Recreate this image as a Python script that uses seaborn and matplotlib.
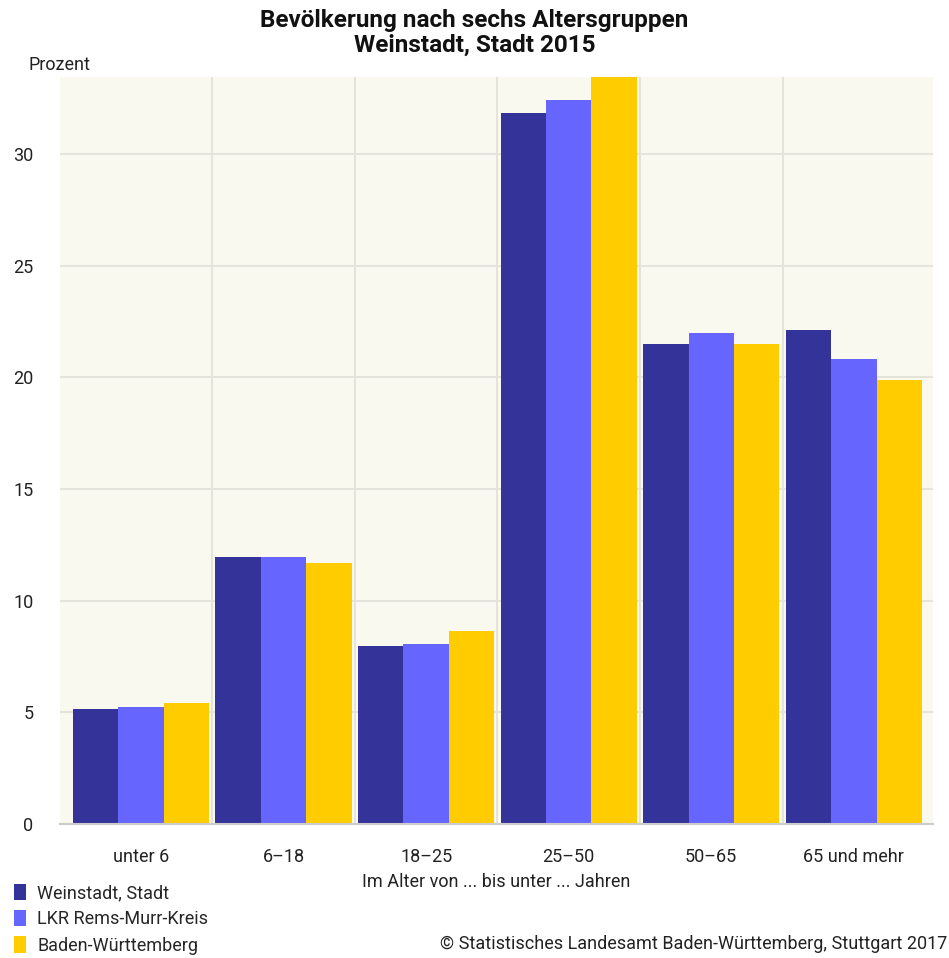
import matplotlib
matplotlib.use("Agg")
import matplotlib.pyplot as plt
import seaborn as sns
import pandas as pd
from matplotlib.patches import Patch

categories = ["unter 6", "6–18", "18–25", "25–50", "50–65", "65 und mehr"]
regions = ["Weinstadt, Stadt", "LKR Rems-Murr-Kreis", "Baden-Württemberg"]
weinstadt = [5.15, 11.97, 7.99, 31.84, 21.48, 22.11]
lkr = [5.23, 11.97, 8.05, 32.41, 21.97, 20.81]
bw = [5.43, 11.67, 8.63, 33.6, 21.48, 19.87]
colors = ["#333399", "#6666FF", "#FFCC00"]

rows = []
for reg, vals in zip(regions, [weinstadt, lkr, bw]):
    for c, v in zip(categories, vals):
        rows.append({"Altersgruppe": c, "Prozent": v, "Region": reg})
df = pd.DataFrame(rows)

sns.set_theme(style="white")
plt.rcParams['font.family'] = ['Roboto', 'DejaVu Sans']

fs = 13
fig = plt.figure(figsize=(9.49, 9.58), dpi=100)
ax = fig.add_axes([60/949, 1-824/958, (933-60)/949, (824-77)/958])
ax.set_facecolor("#F9F9EF")

sns.barplot(data=df, x="Altersgruppe", y="Prozent", hue="Region",
            palette=colors, hue_order=regions, order=categories,
            width=0.955, saturation=1, legend=False, ax=ax,
            edgecolor="none", linewidth=0)

ax.set_ylim(0, 33.45)
ax.set_xlim(-0.568, 5.555)
ax.set_yticks([0, 5, 10, 15, 20, 25, 30])
grid_c = "#E4E4DC"
ax.yaxis.grid(True, color=grid_c, linewidth=1.5, zorder=0)
for b in [0.5, 1.5, 2.5, 3.5, 4.5]:
    ax.axvline(b, color=grid_c, linewidth=1.5, zorder=0)
ax.set_axisbelow(True)
for s in ["top", "right", "left"]:
    ax.spines[s].set_visible(False)
ax.spines["bottom"].set_color("#CCCCCC")
ax.spines["bottom"].set_linewidth(1.5)

ax.tick_params(axis="y", length=14, width=1.5, color=grid_c, pad=5,
               labelsize=fs, labelcolor="#222222")
ax.tick_params(axis="x", length=12, width=1.5, color=grid_c, pad=5,
               labelsize=fs, labelcolor="#222222")
ax.set_xlabel("Im Alter von ... bis unter ... Jahren", fontsize=fs,
              color="#222222", labelpad=5)
ax.set_ylabel("")

fig.text(0.5, 1-20/958, "Bevölkerung nach sechs Altersgruppen", ha="center",
         va="center", fontsize=17.5, fontweight="bold", color="#111111")
fig.text(0.5, 1-45/958, "Weinstadt, Stadt 2015", ha="center",
         va="center", fontsize=17.5, fontweight="bold", color="#111111")
fig.text(28/949, 1-65/958, "Prozent", ha="left", va="center",
         fontsize=fs, color="#222222")

handles = [Patch(facecolor=c, edgecolor="none") for c in colors]
fig.legend(handles, regions, loc="lower left", bbox_to_anchor=(0.005, -0.006),
           frameon=False, fontsize=fs, handlelength=0.7, handleheight=1.0,
           handletextpad=0.6, labelspacing=0.45, borderaxespad=0.1)
fig.text(947/949, 1-944/958, "© Statistisches Landesamt Baden-Württemberg, Stuttgart 2017",
         ha="right", va="center", fontsize=fs, color="#222222")

fig.savefig("out.png", dpi=100)
